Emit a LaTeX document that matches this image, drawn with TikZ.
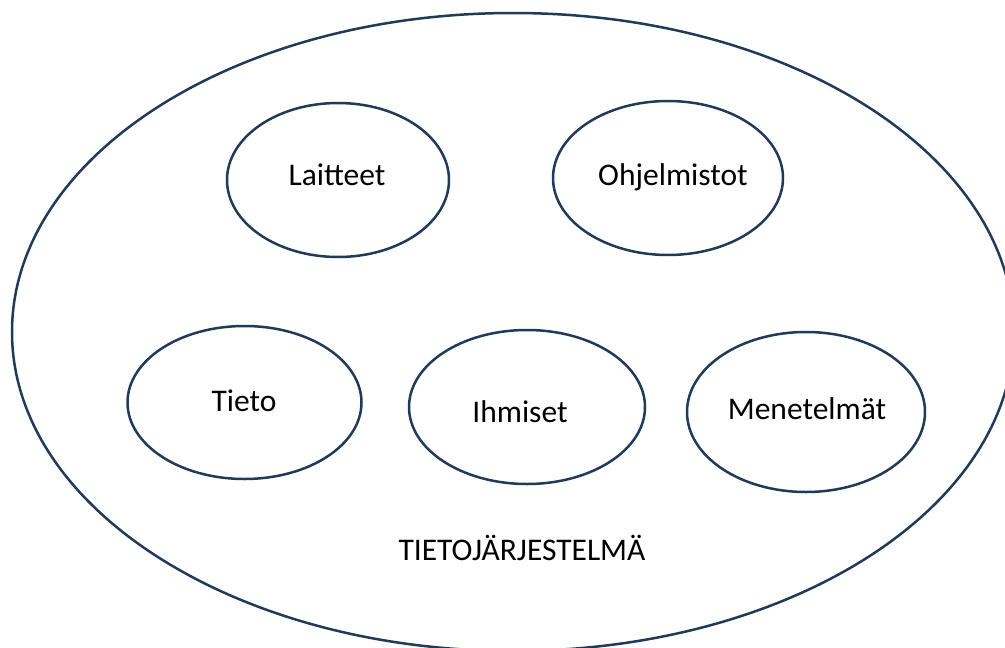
\documentclass[tikz,border=0pt]{standalone}
\usepackage{fontspec}
\setmainfont{Carlito}
\usetikzlibrary{shapes.geometric}
\definecolor{rim}{RGB}{32,58,88}
\tikzset{
  oval/.style={ellipse, draw=rim, line width=2.5pt, inner sep=0pt},
  part/.style={oval, minimum width=232pt, minimum height=154pt},
  word/.style={anchor=base, inner sep=0pt, text=black, font=\fontsize{31.5}{37}\selectfont}
}
\begin{document}
\begin{tikzpicture}[x=1pt, y=-1pt]
  \useasboundingbox (0,0) rectangle (1005,648);
  \clip (0,0) rectangle (1005,648);
  % the enclosing system
  \node[oval, minimum width=1002pt, minimum height=638pt] (system) at (513,332) {};
  % its components
  \node[part, minimum width=222pt] (laitteet) at (338,180) {};
  \node[part, minimum width=230pt] (ohjelmistot) at (668,178) {};
  \node[part, minimum width=234pt, minimum height=153pt] (tieto) at (244.5,402.5) {};
  \node[part, minimum width=236pt] (ihmiset) at (527,407) {};
  \node[part, minimum width=238pt, minimum height=160pt] (menetelmat) at (806,412) {};
  % labels
  \node[word] (laitteetText) at (337,185) {Laitteet};
  \node[word] (ohjelmistotText) at (673,185) {Ohjelmistot};
  \node[word] (tietoText) at (244,411) {Tieto};
  \node[word] (ihmisetText) at (520,422) {Ihmiset};
  \node[word] (menetelmatText) at (807,419) {Menetelmät};
  \node[word] (systemText) at (522,560) {TIETOJÄRJESTELMÄ};
\end{tikzpicture}
\end{document}
